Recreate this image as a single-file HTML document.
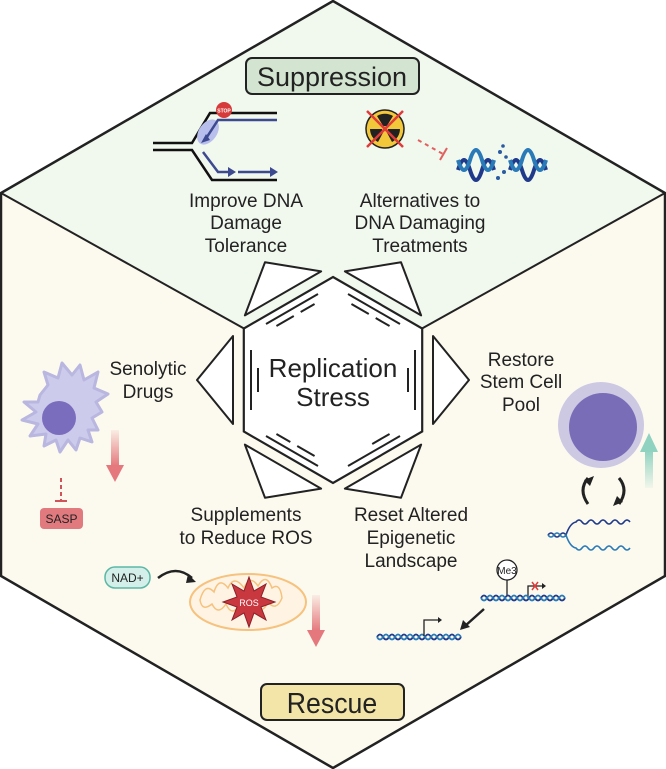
<!DOCTYPE html>
<html><head><meta charset="utf-8"><style>
html,body{margin:0;padding:0;background:#fff}
svg{display:block}
text{font-family:"Liberation Sans",Arial,sans-serif;fill:#222}
</style></head><body>
<svg width="666" height="769" viewBox="0 0 666 769" xmlns="http://www.w3.org/2000/svg">
<polygon points="333,1 665,193 665,576 333,768 1,576 1,193" fill="#fcfaef"/>
<polygon points="333,1 665,193 422,328.5 333,277 244,328.5 1,193" fill="#f1f8ee"/>
<polygon points="333,1 665,193 665,576 333,768 1,576 1,193" fill="none" stroke="#222" stroke-width="2.5"/>
<line x1="1" y1="193" x2="244" y2="328.5" stroke="#222" stroke-width="2"/>
<line x1="665" y1="193" x2="422" y2="328.5" stroke="#222" stroke-width="2"/>

<polygon points="333,277 422.2,328.5 422.2,431.5 333,483 243.8,431.5 243.8,328.5" fill="#fff" stroke="#222" stroke-width="2.2"/>
<g transform="translate(333,380)" stroke="#222" stroke-width="2" fill="#fff" stroke-linejoin="round">
  <g transform="rotate(30)">
    <line x1="-30" y1="-82" x2="30" y2="-82"/>
    <line x1="-22" y1="-75" x2="-2" y2="-75"/>
    <line x1="6" y1="-75" x2="22" y2="-75"/>
    <polygon points="-44,-100 44,-100 0,-136"/>
  </g>
  <g transform="rotate(90)">
    <line x1="-30" y1="-82" x2="30" y2="-82"/>
    <line x1="-12" y1="-75" x2="12" y2="-75"/>
    <polygon points="-44,-100 44,-100 0,-136"/>
  </g>
  <g transform="rotate(150)">
    <line x1="-30" y1="-82" x2="30" y2="-82"/>
    <line x1="-22" y1="-75" x2="-2" y2="-75"/>
    <polygon points="-44,-100 44,-100 0,-136"/>
  </g>
  <g transform="rotate(210)">
    <line x1="-30" y1="-82" x2="30" y2="-82"/>
    <line x1="-22" y1="-75" x2="-2" y2="-75"/>
    <line x1="6" y1="-75" x2="22" y2="-75"/>
    <polygon points="-44,-100 44,-100 0,-136"/>
  </g>
  <g transform="rotate(270)">
    <line x1="-30" y1="-82" x2="30" y2="-82"/>
    <line x1="-12" y1="-75" x2="12" y2="-75"/>
    <polygon points="-44,-100 44,-100 0,-136"/>
  </g>
  <g transform="rotate(330)">
    <line x1="-30" y1="-82" x2="30" y2="-82"/>
    <line x1="-22" y1="-75" x2="-2" y2="-75"/>
    <line x1="6" y1="-75" x2="22" y2="-75"/>
    <polygon points="-44,-100 44,-100 0,-136"/>
  </g>
</g>
<text x="333" y="377" font-size="26" text-anchor="middle">Replication</text>
<text x="333" y="406" font-size="26" text-anchor="middle">Stress</text>

<rect x="246" y="58" width="173" height="36" rx="6" fill="#d3e5d0" stroke="#222" stroke-width="2"/>
<text x="332" y="86" font-size="27" text-anchor="middle">Suppression</text>
<rect x="261" y="684" width="143" height="36" rx="6" fill="#f3e4a8" stroke="#222" stroke-width="2"/>
<text x="332" y="713" font-size="29" text-anchor="middle" transform="translate(332 0) scale(0.92 1) translate(-332 0)">Rescue</text>

<g font-size="19" text-anchor="middle">
<text x="246" y="207">Improve DNA</text>
<text x="246" y="229">Damage</text>
<text x="246" y="252">Tolerance</text>
<text x="420" y="207">Alternatives to</text>
<text x="420" y="229">DNA Damaging</text>
<text x="420" y="252">Treatments</text>
<text x="148" y="375">Senolytic</text>
<text x="148" y="398">Drugs</text>
<text x="521" y="366">Restore</text>
<text x="521" y="388">Stem Cell</text>
<text x="521" y="411">Pool</text>
<text x="246" y="521">Supplements</text>
<text x="246" y="544">to Reduce ROS</text>
<text x="411" y="521">Reset Altered</text>
<text x="411" y="544">Epigenetic</text>
<text x="411" y="567">Landscape</text>
</g>

<g fill="none" stroke-width="2.5">
<path d="M153,143 H192 L210,113 H277" stroke="#111"/>
<path d="M153,150 H192 L212,180 H277" stroke="#111"/>
<ellipse cx="208" cy="132" rx="9" ry="14" fill="#b9bfec" stroke="none" transform="rotate(35 208 132)"/>
<path d="M277,120 H218 L205,140" stroke="#3d4a8f"/>
<path d="M203,152 L218,172 H228" stroke="#3d4a8f"/>
<path d="M238,172 H270" stroke="#3d4a8f"/>
</g>
<polygon points="201,143 206,134 210,140" fill="#3d4a8f"/>
<polygon points="228,167 236,172 228,177" fill="#3d4a8f"/>
<polygon points="270,167 278,172 270,177" fill="#3d4a8f"/>
<circle cx="224" cy="110" r="8" fill="#d63a3a"/>
<text x="224" y="112.5" font-size="5" text-anchor="middle" style="fill:#fff;font-weight:bold">STOP</text>

<circle cx="385" cy="129" r="19" fill="#f2c73a" stroke="#222" stroke-width="1.5"/>
<g fill="#222">
<path d="M385,129 L377,116 A15,15 0 0 1 393,116 Z"/>
<path d="M385,129 L400,129 A15,15 0 0 1 392,142 Z"/>
<path d="M385,129 L378,142 A15,15 0 0 1 370,129 Z"/>
</g>
<circle cx="385" cy="129" r="3" fill="#f2c73a"/>
<line x1="367" y1="111" x2="403" y2="147" stroke="#e03a3a" stroke-width="2.5"/>
<line x1="403" y1="111" x2="367" y2="147" stroke="#e03a3a" stroke-width="2.5"/>
<line x1="418" y1="140" x2="443" y2="154" stroke="#e06060" stroke-width="2" stroke-dasharray="4,4"/>
<line x1="440" y1="160" x2="447" y2="148" stroke="#e06060" stroke-width="2"/>
<g fill="none" stroke-width="4">
<path d="M458,170 q6,-20 12,0 t12,0 t12,0" stroke="#1f3a8a"/>
<path d="M458,160 q6,20 12,0 t12,0 t12,0" stroke="#2a7ab8"/>
<path d="M510,170 q6,-20 12,0 t12,0 t12,0" stroke="#1f3a8a"/>
<path d="M510,160 q6,20 12,0 t12,0 t12,0" stroke="#2a7ab8"/>
</g>
<g fill="#2a5aa0"><circle cx="500" cy="152" r="2"/><circle cx="504" cy="172" r="2"/><circle cx="498" cy="178" r="2"/><circle cx="506" cy="157" r="1.8"/><circle cx="503" cy="146" r="1.8"/></g>

<path d="M40,395 L48,385 L44,372 L58,378 L62,363 L72,375 L80,365 L84,380 L98,372 L94,388 L108,394 L96,402 L102,412 L92,418 L98,430 L88,430 L92,442 L80,438 L76,450 L68,440 L60,452 L56,440 L44,446 L46,434 L30,436 L38,424 L22,420 L36,412 L24,402 L38,402 Z" fill="#cdcbeb" stroke="#b9b6e0" stroke-width="3" stroke-linejoin="round"/>
<circle cx="59" cy="418" r="17" fill="#7b6dbd"/>
<line x1="61" y1="478" x2="61" y2="500" stroke="#d0535a" stroke-width="2" stroke-dasharray="4,3"/>
<line x1="55" y1="501" x2="67" y2="501" stroke="#d0535a" stroke-width="2"/>
<rect x="40" y="508" width="43" height="21" rx="4" fill="#e07a7e"/>
<text x="61.5" y="523" font-size="12" text-anchor="middle">SASP</text>
<defs>
<linearGradient id="rg" x1="0" y1="0" x2="0" y2="1"><stop offset="0" stop-color="#e4787d" stop-opacity="0.1"/><stop offset="1" stop-color="#e4787d"/></linearGradient>
<linearGradient id="tg" x1="0" y1="1" x2="0" y2="0"><stop offset="0" stop-color="#8fd2c0" stop-opacity="0.1"/><stop offset="1" stop-color="#8fd2c0"/></linearGradient>
</defs>
<rect x="111" y="430" width="8" height="36" fill="url(#rg)"/>
<polygon points="106,465 124,465 115,482" fill="#e4787d"/>

<circle cx="601" cy="425" r="43" fill="#cdc9e3"/>
<circle cx="603" cy="427" r="34" fill="#7a6db8"/>
<rect x="645" y="450" width="8" height="38" fill="url(#tg)"/>
<polygon points="640,452 658,452 649,433" fill="#8fd2c0"/>
<path d="M588,478 q-10,12 0,26" fill="none" stroke="#222" stroke-width="3"/>
<path d="M619,478 q10,12 0,26" fill="none" stroke="#222" stroke-width="3"/>
<polygon points="584,480 594,476 590,486" fill="#222"/>
<polygon points="623,502 613,506 617,496" fill="#222"/>
<g fill="none" stroke-width="1.6">
<path d="M548,535 q3,-4 6,0 t6,0 t6,0 q4,-12 10,-13 q3,-4 6,0 t6,0 t6,0 t6,0 t6,0 t6,0 t6,0 t6,0 t6,0" stroke="#1f3a8a"/>
<path d="M548,535 q3,4 6,0 t6,0 t6,0 q4,12 10,13 q3,4 6,0 t6,0 t6,0 t6,0 t6,0 t6,0 t6,0 t6,0 t6,0" stroke="#2a7ab8"/>
</g>

<rect x="105" y="567" width="45" height="21" rx="10" fill="#d4efe9" stroke="#5bb8a5" stroke-width="1.5"/>
<text x="127.5" y="582" font-size="12" text-anchor="middle">NAD+</text>
<path d="M158,578 q18,-14 34,0" fill="none" stroke="#222" stroke-width="2.5"/>
<polygon points="188,574 196,582 186,583" fill="#222"/>
<ellipse cx="248" cy="602" rx="58" ry="28" fill="#fff4e4" stroke="#f6c27e" stroke-width="2"/>
<path d="M200,600 q5,-18 14,-8 q5,-16 14,-4 q6,-14 16,0 q6,-14 14,-2 q8,-14 14,2 q8,-6 10,10 q-6,14 -14,4 q-6,14 -14,2 q-6,14 -14,0 q-8,14 -14,0 q-8,12 -14,0 q-10,8 -12,-4 Z" fill="none" stroke="#f6c27e" stroke-width="1.5"/>
<polygon points="249,577 254,591 266,584 261,597 275,602 261,607 266,620 254,613 249,627 244,613 232,620 237,607 223,602 237,597 232,584 244,591" fill="#c9373f" stroke="#8a2028" stroke-width="1"/>
<text x="249" y="606" font-size="9" text-anchor="middle" style="fill:#fff">ROS</text>
<rect x="312" y="595" width="8" height="36" fill="url(#rg)"/>
<polygon points="307,630 325,630 316,647" fill="#e4787d"/>

<circle cx="507" cy="570" r="10" fill="#fff" stroke="#222" stroke-width="1.3"/>
<text x="507" y="574" font-size="10" text-anchor="middle">Me3</text>
<line x1="507" y1="580" x2="507" y2="596" stroke="#222" stroke-width="1.3"/>
<path d="M528,598 V586 H542" fill="none" stroke="#222" stroke-width="1.3"/>
<polygon points="542,583 546,586 542,589" fill="#222"/>
<line x1="532" y1="582" x2="538" y2="590" stroke="#e03a3a" stroke-width="1.5"/>
<line x1="538" y1="582" x2="532" y2="590" stroke="#e03a3a" stroke-width="1.5"/>
<g fill="none" stroke-width="1.8">
<path d="M481,598 q3,-5 6,0 t6,0 t6,0 t6,0 t6,0 t6,0 t6,0 t6,0 t6,0 t6,0 t6,0 t6,0 t6,0 t6,0" stroke="#1f3a8a"/>
<path d="M481,598 q3,5 6,0 t6,0 t6,0 t6,0 t6,0 t6,0 t6,0 t6,0 t6,0 t6,0 t6,0 t6,0 t6,0 t6,0" stroke="#2a7ab8"/>
<path d="M377,637 q3,-5 6,0 t6,0 t6,0 t6,0 t6,0 t6,0 t6,0 t6,0 t6,0 t6,0 t6,0 t6,0 t6,0 t6,0" stroke="#1f3a8a"/>
<path d="M377,637 q3,5 6,0 t6,0 t6,0 t6,0 t6,0 t6,0 t6,0 t6,0 t6,0 t6,0 t6,0 t6,0 t6,0 t6,0" stroke="#2a7ab8"/>
</g>
<path d="M424,636 V620 H438" fill="none" stroke="#222" stroke-width="1.3"/>
<polygon points="438,617 442,620 438,623" fill="#222"/>
<line x1="484" y1="609" x2="465" y2="626" stroke="#222" stroke-width="2.5"/>
<polygon points="460,630 463,620 470,627" fill="#222"/>
</svg>
</body></html>
